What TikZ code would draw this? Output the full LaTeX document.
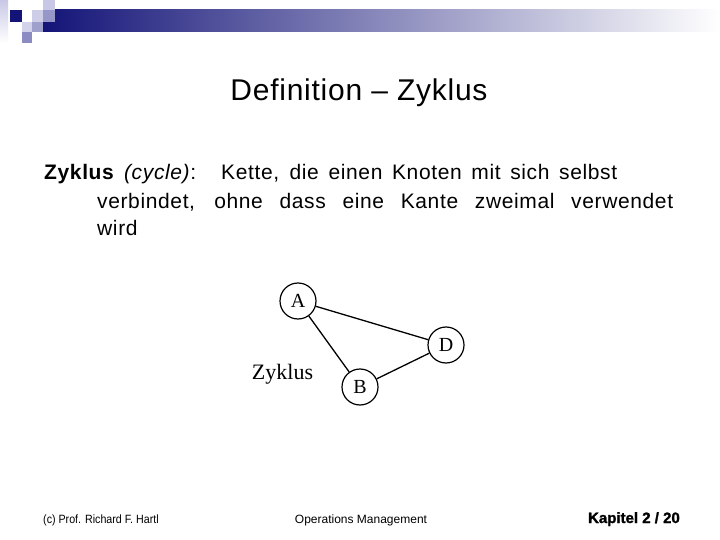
\documentclass[tikz,border=0pt]{standalone}
\usepackage{fontspec}
\setmainfont{Liberation Sans}
\newfontfamily\bodyf[LetterSpace=3]{Liberation Sans}
\newfontfamily\titlef[LetterSpace=2.5]{Liberation Sans}
\newfontfamily\kapf[FakeBold=1.5]{Liberation Sans Bold}
\newfontfamily\timesf{Liberation Serif}
\definecolor{navy}{RGB}{20,20,120}
\definecolor{lav1}{RGB}{200,200,230}
\definecolor{lav2}{RGB}{205,205,232}
\definecolor{lav3}{RGB}{150,150,200}
\definecolor{lav4}{RGB}{210,210,235}
\definecolor{lav5}{RGB}{160,160,205}
\definecolor{lav6}{RGB}{140,140,195}
\begin{document}
\begin{tikzpicture}[x=1pt,y=-1pt,
  vtx/.style={draw,circle,line width=1.2pt,minimum size=36pt,inner sep=0pt,font=\timesf\fontsize{20}{20}\selectfont},
  edge/.style={line width=1.3pt},
  body/.style={anchor=base west,font=\bodyf\fontsize{21}{21}\selectfont,inner sep=0pt},
  foot/.style={font=\fontsize{12}{12}\selectfont,inner sep=0pt}]
\useasboundingbox (0,0) rectangle (720,540);
\fill[white] (0,0) rectangle (720,540);
% header bar
\shade[left color=navy, right color=white] (43,10) rectangle (720,32);
\shade[top color=lav1, bottom color=white] (0,0) rectangle (8,43);
\fill[navy] (10,10) rectangle (22,22);
\fill[lav1] (43,0) rectangle (55,10);
\fill[lav2] (32,10) rectangle (43,22);
\fill[lav3] (43,10) rectangle (55,22);
\fill[lav4] (22,22) rectangle (32,32);
\fill[lav5] (32,22) rectangle (43,32);
\fill[lav6] (22,32) rectangle (32,43);
% title
\node[anchor=base,font=\titlef\fontsize{30}{30}\selectfont,inner sep=0pt] (title) at (359,101) {Definition – Zyklus};
% body
\node[body] (l1) at (44,180) {\makebox[573pt][s]{\textbf{Zyklus} \textit{(cycle)}: \hspace{10pt}Kette, die einen Knoten mit sich selbst}};
\node[body] (l2) at (97,208) {\makebox[576pt][s]{verbindet, ohne dass eine Kante zweimal verwendet}};
\node[body] (l3) at (97,236) {wird};
% graph
\node[vtx] (A) at (298,301) {A};
\node[vtx] (D) at (446,345) {D};
\node[vtx] (B) at (360,387) {B};
\node[font=\timesf\fontsize{22}{22}\selectfont] (lab) at (282.5,374) {Zyklus};
\draw[edge] (A) -- (D);
\draw[edge] (A) -- (B);
\draw[edge] (B) -- (D);
% footer
\node[foot,anchor=base west] (f1) at (43,523) {\scalebox{0.89}[1]{(c) Prof. Richard F. Hartl}};
\node[foot,anchor=base] (f2) at (361,523) {Operations Management};
\node[anchor=base east,font=\kapf\fontsize{15}{15}\selectfont,inner sep=0pt] (f3) at (680,523) {Kapitel 2 / 20};
\end{tikzpicture}
\end{document}
